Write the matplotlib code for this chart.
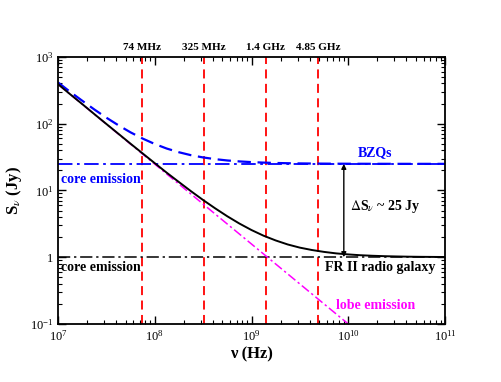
import math
import matplotlib
matplotlib.use("Agg")
import matplotlib.pyplot as plt
from matplotlib.ticker import LogLocator, FuncFormatter, NullFormatter
from matplotlib.transforms import blended_transform_factory

plt.rcParams.update({
    "font.family": ["Liberation Serif", "DejaVu Serif"],
    "mathtext.fontset": "stix",
    "axes.linewidth": 1.3,
})

# frequencies (Hz), eighth-decade steps
nu = [1.00e7, 1.33e7, 1.78e7, 2.37e7, 3.16e7, 4.22e7, 5.62e7, 7.50e7,
      1.00e8, 1.33e8, 1.78e8, 2.37e8, 3.16e8, 4.22e8, 5.62e8, 7.50e8,
      1.00e9, 1.33e9, 1.78e9, 2.37e9, 3.16e9, 4.22e9, 5.62e9, 7.50e9,
      1.00e10, 1.33e10, 1.78e10, 2.37e10, 3.16e10, 4.22e10, 5.62e10, 7.50e10,
      1.00e11]
# FR II radio galaxy (lobe + core)
s_fr2 = [391, 277.1, 196.5, 139.4, 99.0, 70.4, 50.1, 35.8,
         25.6, 18.42, 13.33, 9.73, 7.18, 5.38, 4.10, 3.19,
         2.55, 2.10, 1.78, 1.55, 1.39, 1.28, 1.20, 1.14,
         1.10, 1.07, 1.05, 1.035, 1.025, 1.017, 1.012, 1.009,
         1.006]
# BZQs (lobe + bright core)
s_bzq = [415, 301, 220.5, 163.4, 123.0, 94.4, 74.1, 59.8,
         49.6, 42.4, 37.3, 33.7, 31.2, 29.4, 28.1, 27.2,
         26.55, 26.10, 25.78, 25.55, 25.39, 25.28, 25.20, 25.14,
         25.10, 25.07, 25.05, 25.035, 25.025, 25.017, 25.012, 25.009,
         25.006]
# lobe emission power law
nu_lobe = [1e7, 1e10]
s_lobe = [390, 0.1]
# core levels
core_bzq = 25.0
core_fr2 = 1.0
# survey frequencies
survey_nu = [74e6, 325e6, 1.4e9, 4.85e9]
survey_lab = ["74 MHz", "325 MHz", "1.4 GHz", "4.85 GHz"]

BLUE = "#0000ff"; RED = "#ff0000"; MAG = "#ff00ff"

fig = plt.figure(figsize=(5.01, 3.82), dpi=100)
ax = fig.add_axes([0.1158, 0.152, 0.7724, 0.699])
ax.set_xscale("log"); ax.set_yscale("log")
ax.set_xlim(1e7, 1e11); ax.set_ylim(0.1, 1e3)

for f in survey_nu:
    ax.axvline(f, color=RED, lw=1.3, ls=(0, (5, 3)), zorder=1)

ax.axhline(core_bzq, color=BLUE, lw=1.3, ls=(0, (8, 2.5, 1.5, 2.5)))
ax.axhline(core_fr2, color="black", lw=1.1, ls=(0, (8, 2.5, 1.5, 2.5)))
ax.plot(nu_lobe, s_lobe, color=MAG, lw=1.1, ls=(0, (6, 2, 1.5, 2)))
ax.plot(nu, s_bzq, color=BLUE, lw=1.6, ls=(0, (6, 3)))
ax.plot(nu, s_fr2, color="black", lw=1.4)

ax.annotate("", xy=(9e9, core_bzq), xytext=(9e9, core_fr2),
            arrowprops=dict(arrowstyle="<|-|>", color="black", lw=1.0,
                            mutation_scale=7, shrinkA=0, shrinkB=0))

bold = dict(fontweight="bold", fontsize=10)
ax.text(1.05e10, 5.7, r"$\Delta$S$_\nu$ ~ 25 Jy", va="center", ha="left", **bold)
ax.text(1.9e10, 37, "BZQs", color=BLUE, ha="center", va="center", **bold)
ax.text(1.07e7, 14.8, "core emission", color=BLUE, ha="left", va="center", **bold)
ax.text(1.07e7, 0.69, "core emission", color="black", ha="left", va="center", **bold)
ax.text(5.8e9, 0.69, "FR II radio galaxy", color="black", ha="left", va="center", **bold)
ax.text(7.5e9, 0.19, "lobe emission", color=MAG, ha="left", va="center", **bold)

trans = blended_transform_factory(ax.transData, ax.transAxes)
for f, lab in zip(survey_nu, survey_lab):
    ax.text(f, 1.034, lab, transform=trans, ha="center", va="center",
            fontweight="bold", fontsize=8)

def fmt(v, pos):
    e = int(round(math.log10(v)))
    if e == 0:
        return "1"
    return r"$\mathregular{10^{%d}}$" % e

for a in (ax.xaxis, ax.yaxis):
    a.set_major_locator(LogLocator(base=10, numticks=10))
    a.set_minor_locator(LogLocator(base=10, subs=range(2, 10), numticks=20))
    a.set_major_formatter(FuncFormatter(fmt))
    a.set_minor_formatter(NullFormatter())

ax.tick_params(which="both", direction="in", top=True, right=True, labelsize=9)
ax.tick_params(which="major", length=6, width=1.0)
ax.tick_params(which="minor", length=3, width=0.8)

ax.set_xlabel("ν (Hz)", fontsize=12, fontweight="bold", labelpad=2)
ax.set_ylabel(r"S$_\nu$ (Jy)", fontsize=12, fontweight="bold", labelpad=4)

fig.savefig("out.png", dpi=100)
